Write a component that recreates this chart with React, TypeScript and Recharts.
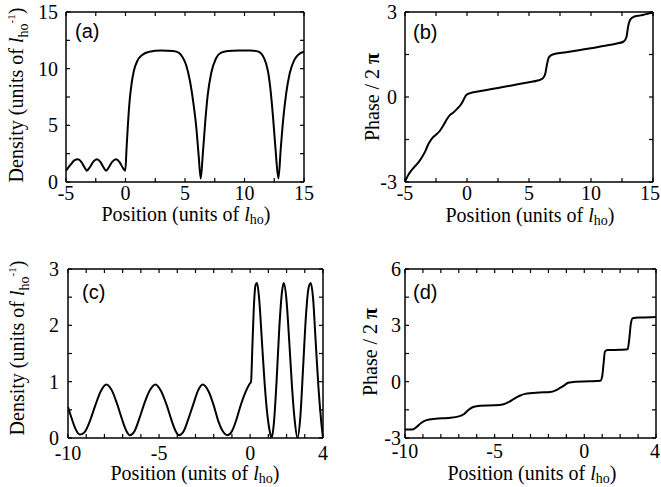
import React from 'react';
import { LineChart, Line, XAxis, YAxis } from 'recharts';

// ---- Panel (a): density vs position ----
const aPos = [-5, -4.6, -4.3, -4.0, -3.7, -3.45, -3.25, -3.0, -2.7, -2.4, -2.1, -1.85, -1.63, -1.4, -1.1, -0.8, -0.5, -0.25, -0.02, 0.1, 0.2, 0.35, 0.5, 0.7, 1.0, 1.4, 2.0, 3.0, 4.0, 4.5, 4.8, 5.1, 5.4, 5.7, 5.95, 6.15, 6.32, 6.5, 6.7, 6.9, 7.2, 7.6, 8.0, 8.6, 9.5, 10.5, 11.2, 11.5, 11.8, 12.0, 12.2, 12.4, 12.6, 12.85, 13.05, 13.25, 13.5, 13.8, 14.2, 14.6, 15.0];
const aDensity = [1.0, 1.55, 1.9, 2.0, 1.75, 1.3, 1.0, 1.3, 1.8, 2.0, 1.75, 1.3, 1.0, 1.3, 1.8, 2.0, 1.75, 1.3, 1.0, 3.2, 5.0, 7.2, 8.6, 9.8, 10.7, 11.2, 11.5, 11.6, 11.55, 11.4, 11.0, 10.3, 9.0, 7.0, 4.8, 2.3, 0.3, 2.5, 5.3, 7.6, 9.6, 10.9, 11.4, 11.55, 11.6, 11.6, 11.5, 11.2, 10.5, 9.6, 8.0, 5.7, 3.0, 0.3, 3.0, 5.5, 7.8, 9.6, 10.8, 11.3, 11.5];

// ---- Panel (b): phase vs position ----
const bPos = [-5, -4.8, -4.5, -4.2, -3.9, -3.6, -3.35, -3.1, -2.8, -2.5, -2.2, -1.9, -1.65, -1.4, -1.1, -0.8, -0.55, -0.3, -0.1, 0.2, 1, 2, 3, 4, 5, 5.7, 6.1, 6.3, 6.45, 6.6, 6.9, 8, 9, 10, 11, 12, 12.6, 12.85, 13.0, 13.15, 13.4, 14, 14.5, 15];
const bPhase = [-3.0, -2.8, -2.6, -2.45, -2.3, -2.1, -1.9, -1.65, -1.45, -1.33, -1.2, -1.0, -0.8, -0.65, -0.55, -0.42, -0.3, -0.12, 0.05, 0.13, 0.2, 0.28, 0.36, 0.44, 0.52, 0.58, 0.65, 0.8, 1.15, 1.4, 1.5, 1.58, 1.65, 1.72, 1.8, 1.88, 1.95, 2.1, 2.5, 2.72, 2.82, 2.88, 2.93, 2.97];

// ---- Panel (c): density vs position ----
const cPos = [-10, -9.8, -9.6, -9.35, -9.1, -8.8, -8.5, -8.2, -7.9, -7.6, -7.3, -7.0, -6.8, -6.6, -6.35, -6.1, -5.8, -5.5, -5.2, -4.9, -4.6, -4.3, -4.1, -3.9, -3.65, -3.4, -3.1, -2.85, -2.6, -2.3, -2.0, -1.75, -1.5, -1.25, -1.0, -0.75, -0.5, -0.25, -0.05, 0.05, 0.12, 0.2, 0.3, 0.38, 0.5, 0.65, 0.8, 0.95, 1.1, 1.18, 1.3, 1.45, 1.6, 1.75, 1.85, 1.98, 2.15, 2.3, 2.45, 2.6, 2.75, 2.9, 3.05, 3.2, 3.33, 3.45, 3.6, 3.75, 3.9, 4.0];
const cDensity = [0.55, 0.35, 0.17, 0.06, 0.1, 0.3, 0.58, 0.83, 0.95, 0.85, 0.6, 0.3, 0.13, 0.05, 0.12, 0.33, 0.62, 0.85, 0.95, 0.84, 0.6, 0.3, 0.13, 0.05, 0.12, 0.33, 0.62, 0.85, 0.95, 0.84, 0.58, 0.3, 0.12, 0.05, 0.12, 0.33, 0.6, 0.82, 0.95, 1.0, 1.6, 2.3, 2.72, 2.75, 2.45, 1.7, 0.95, 0.4, 0.08, 0.0, 0.25, 1.0, 1.95, 2.6, 2.75, 2.5, 1.7, 0.9, 0.3, 0.0, 0.35, 1.2, 2.1, 2.65, 2.75, 2.5, 1.7, 0.9, 0.3, 0.0];

// ---- Panel (d): phase vs position ----
const dPos = [-10, -9.6, -9.4, -9.1, -8.8, -8.3, -7.6, -7.0, -6.7, -6.45, -6.2, -5.8, -5.0, -4.5, -4.2, -3.9, -3.6, -3.3, -2.5, -1.9, -1.5, -1.2, -0.9, -0.5, 0.3, 0.9, 1.0, 1.08, 1.15, 1.3, 2.0, 2.42, 2.5, 2.6, 2.7, 3.2, 4.0];
const dPhase = [-2.55, -2.55, -2.45, -2.2, -2.05, -1.98, -1.93, -1.85, -1.72, -1.5, -1.35, -1.28, -1.26, -1.2, -1.08, -0.9, -0.75, -0.65, -0.58, -0.55, -0.42, -0.25, -0.06, 0.0, 0.02, 0.05, 0.3, 1.0, 1.6, 1.68, 1.7, 1.72, 2.2, 3.1, 3.38, 3.42, 3.45];

// ---- Ticks ----
const abXTicks = [-5, -2.5, 0, 2.5, 5, 7.5, 10, 12.5, 15];
const abXLabels = [-5, 0, 5, 10, 15];
const aYTicks = [0, 2.5, 5, 7.5, 10, 12.5, 15];
const aYLabels = [0, 5, 10, 15];
const bYTicks = [-3, -1.5, 0, 1.5, 3];
const bYLabels = [-3, 0, 3];
const cdXTicks = [-10, -9, -8, -7, -6, -5, -4, -3, -2, -1, 0, 1, 2, 3, 4];
const cdXLabels = [-10, -5, 0, 4];
const cYTicks = [0, 0.5, 1, 1.5, 2, 2.5, 3];
const cYLabels = [0, 1, 2, 3];
const dYTicks = [-3, -1.5, 0, 1.5, 3, 4.5, 6];
const dYLabels = [-3, 0, 3, 6];

const SERIF = '"Liberation Serif", "Times New Roman", serif';
const SANS = '"Liberation Sans", Arial, sans-serif';

const PosTitle = ({ x, y }: { x: number; y: number }) => (
  <text x={x} y={y} textAnchor="middle" fontFamily={SERIF} fontSize={20} fill="#000">
    Position (units of <tspan fontStyle="italic">l</tspan>
    <tspan dy={3} fontSize={14}>ho</tspan>
    <tspan dy={-3}>)</tspan>
  </text>
);

const DensityTitle = ({ x, y }: { x: number; y: number }) => (
  <text x={x} y={y} textAnchor="middle" fontFamily={SERIF} fontSize={20} fill="#000" transform={`rotate(-90 ${x} ${y})`}>
    Density (units of <tspan fontStyle="italic">l</tspan>
    <tspan dy={5} fontSize={14}>ho</tspan>
    <tspan dy={-13} fontSize={11}>-1</tspan>
    <tspan dy={8}>)</tspan>
  </text>
);

const PhaseTitle = ({ x, y }: { x: number; y: number }) => (
  <text x={x} y={y} textAnchor="middle" fontFamily={SERIF} fontSize={20} fill="#000" transform={`rotate(-90 ${x} ${y})`}>
    Phase / 2 <tspan fontWeight="bold">π</tspan>
  </text>
);

type PanelProps = {
  left: number; top: number; width: number; height: number;
  margin: { top: number; right: number; bottom: number; left: number };
  xs: number[]; ys: number[];
  xDomain: [number, number]; yDomain: [number, number];
  xTicks: number[]; xLabels: number[]; yTicks: number[]; yLabels: number[];
  xTickMargin: number; yTickMargin: number; lastXShift?: number;
  tag: string; tagX: number; tagY: number;
  yTitle: 'density' | 'phase'; yTitleX: number; yTitleY: number;
  xTitleX: number; xTitleY: number;
};

// Axes are 1px thick in layout; margins are the plot box minus that 1px.
const Panel = (p: PanelProps) => {
  const data = p.xs.map((x, i) => ({ x, y: p.ys[i] }));
  const axisLine = { stroke: '#000', strokeWidth: 1.5 };
  const tickLine = { stroke: '#000', strokeWidth: 1.2 };
  const m = { top: p.margin.top - 1, right: p.margin.right - 1, bottom: p.margin.bottom - 1, left: p.margin.left - 1 };
  const lastX = p.xDomain[1];
  const XTick = (t: any) => {
    const v = t.payload?.value;
    if (!p.xLabels.includes(v)) return <g />;
    const dx = v === lastX ? (p.lastXShift || 0) : 0;
    return (
      <text x={t.x + dx} y={t.y} dy="0.71em" textAnchor="middle" fontFamily={SERIF} fontSize={20} fill="#000">
        {String(v)}
      </text>
    );
  };
  const YTick = (t: any) => {
    const v = t.payload?.value;
    if (!p.yLabels.includes(v)) return <g />;
    return (
      <text x={t.x} y={t.y} dy="0.355em" textAnchor="end" fontFamily={SERIF} fontSize={20} fill="#000">
        {String(v)}
      </text>
    );
  };
  const Blank = () => <g />;
  return (
    <div style={{ position: 'absolute', left: p.left, top: p.top, width: p.width, height: p.height }}>
      <LineChart width={p.width} height={p.height} data={data} margin={m}>
        <XAxis xAxisId="b" dataKey="x" type="number" domain={p.xDomain} ticks={p.xTicks} interval={0}
          allowDataOverflow tickSize={-4} tickMargin={p.xTickMargin} height={1}
          axisLine={axisLine} tickLine={tickLine} tick={XTick} />
        <XAxis xAxisId="t" orientation="top" dataKey="x" type="number" domain={p.xDomain} ticks={p.xTicks} interval={0}
          allowDataOverflow tickSize={-4} height={1}
          axisLine={axisLine} tickLine={tickLine} tick={Blank} />
        <YAxis yAxisId="l" type="number" domain={p.yDomain} ticks={p.yTicks} interval={0}
          allowDataOverflow tickSize={-4} tickMargin={p.yTickMargin} width={1}
          axisLine={axisLine} tickLine={tickLine} tick={YTick} />
        <YAxis yAxisId="r" orientation="right" type="number" domain={p.yDomain} ticks={p.yTicks} interval={0}
          allowDataOverflow tickSize={-4} width={1}
          axisLine={axisLine} tickLine={tickLine} tick={Blank} />
        <Line xAxisId="b" yAxisId="l" dataKey="y" type="monotone" stroke="#000" strokeWidth={2}
          dot={false} activeDot={false} isAnimationActive={false} />
        <text x={p.tagX} y={p.tagY} fontFamily={SANS} fontSize={20} fill="#000">{p.tag}</text>
        {p.yTitle === 'density'
          ? <DensityTitle x={p.yTitleX} y={p.yTitleY} />
          : <PhaseTitle x={p.yTitleX} y={p.yTitleY} />}
        <PosTitle x={p.xTitleX} y={p.xTitleY} />
      </LineChart>
    </div>
  );
};

export default function App() {
  return (
    <div style={{ position: 'absolute', left: 0, top: 0, width: 661, height: 487, background: '#fff' }}>
      <Panel left={0} top={0} width={330} height={245}
        margin={{ top: 12, right: 26, bottom: 63, left: 66 }}
        xs={aPos} ys={aDensity} xDomain={[-5, 15]} yDomain={[0, 15]}
        xTicks={abXTicks} xLabels={abXLabels} yTicks={aYTicks} yLabels={aYLabels}
        xTickMargin={8} yTickMargin={12}
        tag="(a)" tagX={75} tagY={38}
        yTitle="density" yTitleX={23} yTitleY={95}
        xTitleX={186} xTitleY={221} />
      <Panel left={330} top={0} width={331} height={245}
        margin={{ top: 12, right: 8, bottom: 63, left: 75 }}
        xs={bPos} ys={bPhase} xDomain={[-5, 15]} yDomain={[-3, 3]}
        xTicks={abXTicks} xLabels={abXLabels} yTicks={bYTicks} yLabels={bYLabels}
        xTickMargin={8} yTickMargin={12} lastXShift={-3}
        tag="(b)" tagX={83} tagY={39}
        yTitle="phase" yTitleX={49} yTitleY={97}
        xTitleX={200} xTitleY={222} />
      <Panel left={0} top={245} width={330} height={242}
        margin={{ top: 24, right: 7, bottom: 49, left: 68 }}
        xs={cPos} ys={cDensity} xDomain={[-10, 4]} yDomain={[0, 3]}
        xTicks={cdXTicks} xLabels={cdXLabels} yTicks={cYTicks} yLabels={cYLabels}
        xTickMargin={12} yTickMargin={13}
        tag="(c)" tagX={82} tagY={54}
        yTitle="density" yTitleX={24} yTitleY={103}
        xTitleX={195} xTitleY={235} />
      <Panel left={330} top={245} width={331} height={242}
        margin={{ top: 24, right: 5, bottom: 49, left: 75 }}
        xs={dPos} ys={dPhase} xDomain={[-10, 4]} yDomain={[-3, 6]}
        xTicks={cdXTicks} xLabels={cdXLabels} yTicks={dYTicks} yLabels={dYLabels}
        xTickMargin={10} yTickMargin={8} lastXShift={-1}
        tag="(d)" tagX={83} tagY={54}
        yTitle="phase" yTitleX={47} yTitleY={107}
        xTitleX={202} xTitleY={235} />
    </div>
  );
}
